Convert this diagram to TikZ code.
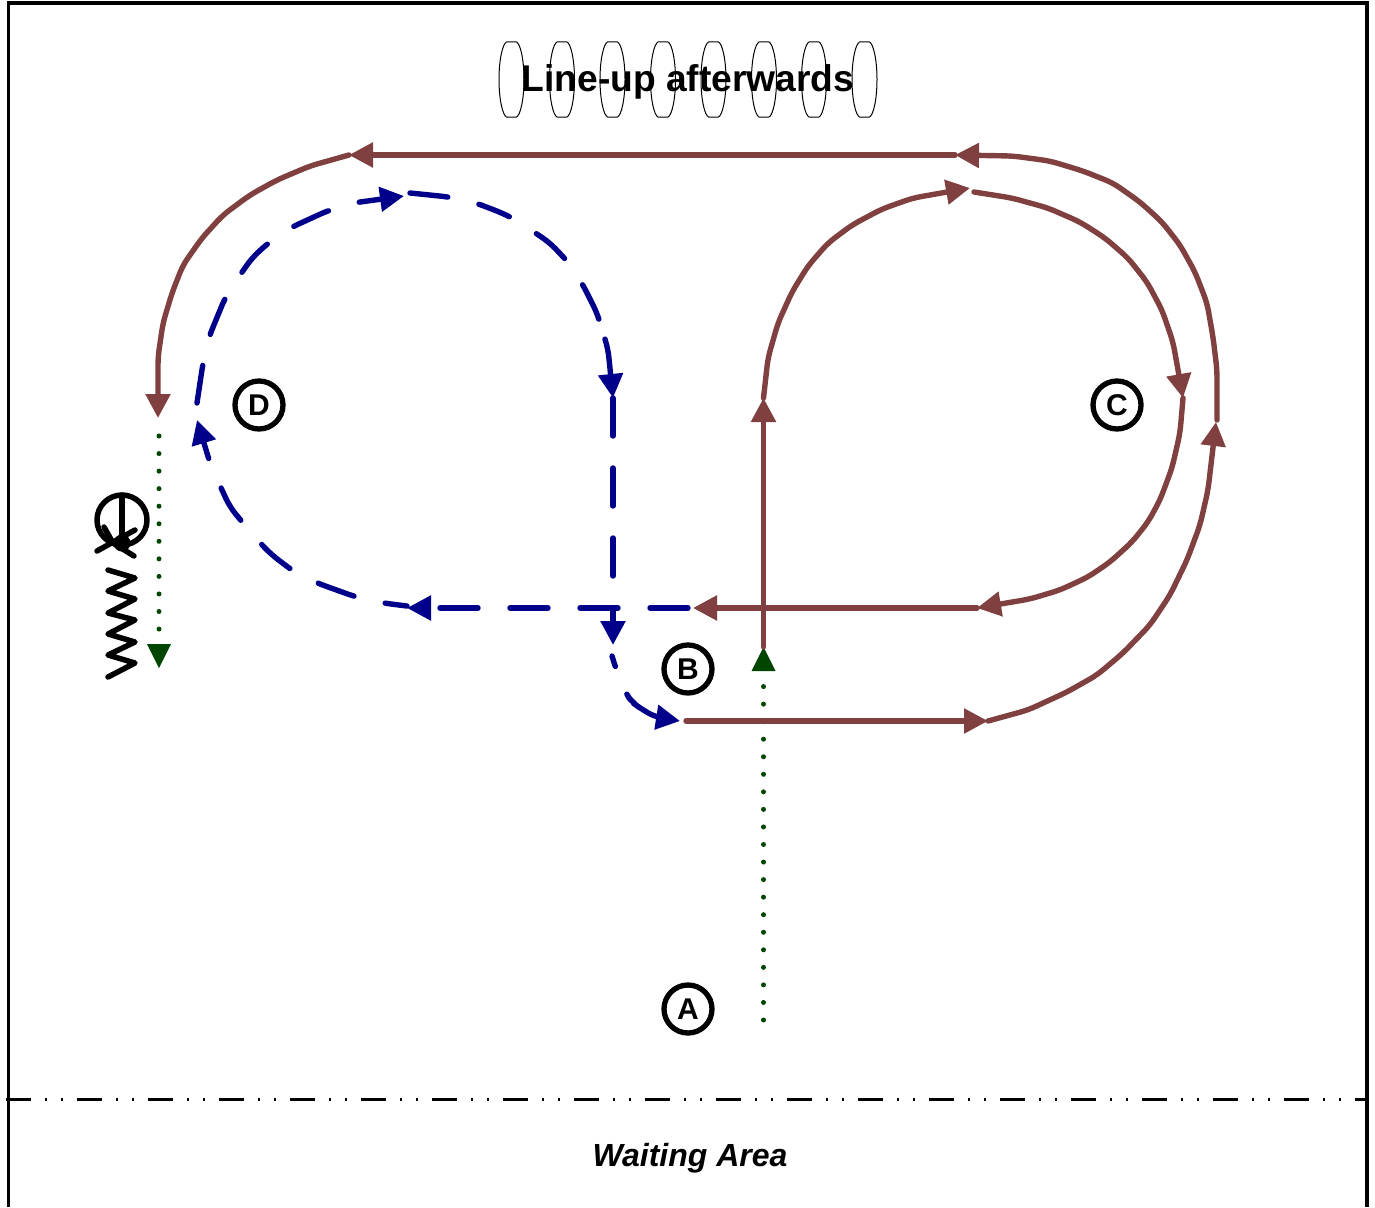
\documentclass[tikz,border=0pt]{standalone}
\usepackage{fontspec}
\setmainfont{Liberation Sans}
\usetikzlibrary{arrows.meta}
\definecolor{brn}{RGB}{128,64,64}
\definecolor{nvy}{RGB}{0,0,139}
\definecolor{grn}{RGB}{0,70,0}
\tikzset{
  x=1pt,y=-1pt,
  brownline/.style={draw=brn,line width=5.4pt,line cap=round,line join=round,rounded corners=8pt,-{Triangle[length=24pt,width=24pt,fill=brn]}},
  blueline/.style={draw=nvy,line width=5.4pt,line cap=round,line join=round,rounded corners=8pt,dash pattern=on 38pt off 32pt,-{Triangle[length=24pt,width=24pt,fill=nvy]}},
  dotline/.style={draw=grn,line width=5pt,line cap=round,dash pattern=on 0pt off 17.55pt},
  tri/.style={draw=none,fill=grn},
  person/.style={draw=black,line width=5.5pt,line cap=round,line join=round},
  letter/.style={circle,draw=black,line width=5.3pt,minimum size=48pt,inner sep=0pt,font=\bfseries\fontsize{30}{30}\selectfont},
  frameline/.style={draw=black,line width=3.5pt},
  lens/.style={draw=black,line width=1pt}
}
\begin{document}
\begin{tikzpicture}
\useasboundingbox (0,0) rectangle (1375,1207);
% frame
\draw[frameline] (8.5,1207) -- (8.5,3) -- (1367,3) -- (1367,1207);
\draw[draw=black,line width=3pt,dash pattern=on 25pt off 14pt on 2pt off 14pt on 2pt off 14pt] (6,1099) -- (1367,1099);
% line-up shapes
\foreach \c in {511.5,562,612.5,663,713.5,764,814,864.5}{
  \draw[lens] (\c-5,42) .. controls (\c-9,44) and (\c-12.5,60) .. (\c-12.5,79.5)
     .. controls (\c-12.5,99) and (\c-9,115) .. (\c-5,117)
     -- (\c+5,117) .. controls (\c+9,115) and (\c+12.5,99) .. (\c+12.5,79.5)
     .. controls (\c+12.5,60) and (\c+9,44) .. (\c+5,42) -- cycle;
}
\node[font=\bfseries\fontsize{37.2}{37.2}\selectfont,inner sep=0pt] (title) at (688,82) {Line-up afterwards};
\node[font=\bfseries\itshape\fontsize{32}{32}\selectfont,inner sep=0pt] (wait) at (690,1158) {Waiting Area};
% letters
\node[letter] (A) at (688,1009) {A};
\node[letter] (B) at (688,669) {B};
\node[letter] (C) at (1117,405) {C};
\node[letter] (D) at (259,405) {D};
% dotted
\coordinate (g1) at (763.5,1020);
\coordinate (g2) at (763.5,672);
\draw[dotline] (g1) -- (g2);
\fill[tri] (763.5,647) -- (775.5,671) -- (751.5,671) -- cycle;
\coordinate (g3) at (159,436);
\coordinate (g4) at (159,632);
\draw[dotline] (g3) -- (g4);
\fill[tri] (159,668) -- (147,644) -- (171,644) -- cycle;
% blue
\coordinate (b0) at (688,608);
\coordinate (b1) at (407,608);
\coordinate (b2) at (197,420);
\coordinate (b3) at (407,606);
\coordinate (b4) at (404,196);
\coordinate (b5) at (410,193);
\coordinate (b6) at (613,398);
\coordinate (b7) at (613,645);
\coordinate (b8) at (612,656);
\coordinate (b9) at (680,721);
\draw[blueline] (b0) -- (b1);
\draw[blueline,dash phase=16pt] (b3) -- (383,603) -- (356,597) -- (317,583) -- (293,571) -- (272,555) -- (261,544) -- (243,523) -- (230,507) -- (221,488) -- (210,463) -- (b2);
\draw[blueline] (197,403) -- (203,363) -- (209,337) -- (225,298) -- (240,275) -- (252,258) -- (267,244) -- (290,228) -- (327,211) -- (353,203) -- (b4);
\draw[blueline] (b5) -- (449,197) -- (476,203) -- (502,213) -- (514,219) -- (537,234) -- (550,243) -- (568,262) -- (583,285) -- (597,313) -- (600,323) -- (608,349) -- (b6);
\draw[blueline] (b6) -- (b7);
\draw[blueline,dash pattern=on 11pt off 30pt on 100pt] (b8) -- (616,669) -- (626,694) -- (633,703) -- (640,708) -- (655,717) -- (b9);
% brown
\coordinate (p0) at (763.5,647);
\coordinate (p1) at (763.5,398);
\coordinate (p2) at (970,188);
\coordinate (p3) at (974,192);
\coordinate (p4) at (1183,398);
\coordinate (p5) at (977,608);
\coordinate (p6) at (693,608);
\coordinate (p7) at (686,721);
\coordinate (p8) at (988,721);
\coordinate (p9) at (1216,422);
\coordinate (p10) at (1217,420);
\coordinate (p11) at (955,155);
\coordinate (p12) at (349,155);
\coordinate (p13) at (158,418);
\draw[brownline] (p0) -- (p1);
\draw[brownline] (p1) -- (768,358) -- (778,323) -- (792,292) -- (808,266) -- (828,243) -- (852,225) -- (882,209) -- (913,198) -- (p2);
\draw[brownline] (p3) -- (1012,198) -- (1048,208) -- (1080,222) -- (1105,238) -- (1128,258) -- (1147,282) -- (1162,310) -- (1173,342) -- (p4);
\draw[brownline] (p4) -- (1180,433) -- (1172,468) -- (1160,500) -- (1148,522) -- (1132,542) -- (1110,562) -- (1088,577) -- (1060,590) -- (1030,599) -- (p5);
\draw[brownline] (p5) -- (p6);
\draw[brownline] (p7) -- (p8);
\draw[brownline] (p8) -- (1028,710) -- (1067,692) -- (1097,675) -- (1123,653) -- (1150,625) -- (1170,595) -- (1187,560) -- (1200,525) -- (1208,490) -- (p9);
\draw[brownline] (p10) -- (1217,370) -- (1213,337) -- (1207,303) -- (1195,272) -- (1180,245) -- (1162,222) -- (1140,202) -- (1113,183) -- (1083,171) -- (1050,161) -- (1013,156) -- (p11);
\draw[brownline] (p11) -- (p12);
\draw[brownline] (p12) -- (310,166) -- (277,180) -- (250,195) -- (223,215) -- (202,238) -- (183,265) -- (172,293) -- (163,323) -- (158,357) -- (p13);
% person
\draw[person] (122,520) circle (25);
\draw[person] (122,495) -- (122,543);
\fill (122,543) circle (8.5);
\draw[person] (97,551) -- (135,530);
\draw[person] (104,527) -- (113,543) -- (134,556);
\draw[person] (108,570) -- (135,578) -- (108,591) -- (135,599) -- (108,613) -- (135,620) -- (108,634) -- (135,642) -- (108,655) -- (135,663) -- (108,677);
\end{tikzpicture}
\end{document}
